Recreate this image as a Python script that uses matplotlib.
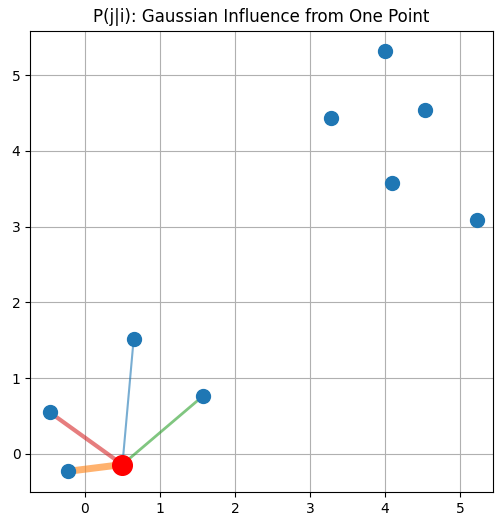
import matplotlib
matplotlib.use("Agg")
import matplotlib.pyplot as plt

xs = [-0.23, -0.47, 0.65, 1.58, 3.28, 4.00, 4.54, 4.10, 5.23]
ys = [-0.23, 0.55, 1.52, 0.77, 4.43, 5.32, 4.54, 3.58, 3.09]
center = (0.50, -0.14)
nbr_idx = [2, 0, 3, 1]
nbr_width = [1.5, 5, 2, 3]

fig = plt.figure(figsize=(5.03, 5.26), dpi=100)
ax = fig.add_axes([0.06, 0.065, 0.92, 0.877])
ax.scatter(xs, ys, s=100, color="C0", zorder=3)
ax.scatter([center[0]], [center[1]], s=200, color="red", zorder=4)
for k, (i, w) in enumerate(zip(nbr_idx, nbr_width)):
    ax.plot([center[0], xs[i]], [center[1], ys[i]], color=f"C{k}", lw=w, alpha=0.6, zorder=2)
ax.set_xlim(-0.73, 5.44)
ax.set_ylim(-0.5, 5.59)
ax.grid(True)
ax.set_axisbelow(True)
ax.set_title("P(j|i): Gaussian Influence from One Point")
fig.savefig("out.png", dpi=100)
